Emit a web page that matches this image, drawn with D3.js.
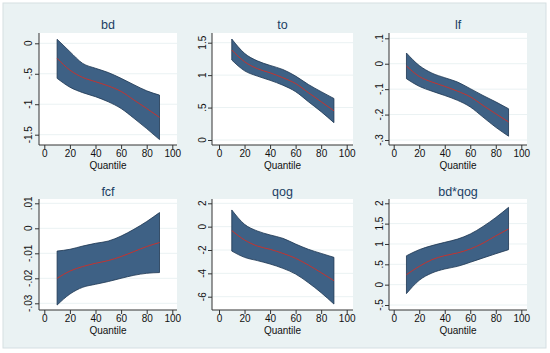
<!DOCTYPE html>
<html>
<head>
<meta charset="utf-8">
<script src="https://cdn.jsdelivr.net/npm/d3@7"></script>
<style>
  body { margin: 0; background: #fff; }
  svg { display: block; font-family: "Liberation Sans", Arial, sans-serif; }
</style>
</head>
<body>
<svg id="chart" width="550" height="353"></svg>
<script>
// quantiles at which the coefficients were estimated
const quantiles = [10, 20, 30, 40, 50, 60, 70, 80, 90];
const xTicks = [0, 20, 40, 60, 80, 100];

const titles = ['bd', 'to', 'lf', 'fcf', 'qog', 'bd*qog'];

// coefficient estimates (red line)
const bdEst  = [-0.246, -0.44, -0.56, -0.63, -0.70, -0.79, -0.93, -1.07, -1.215];
const toEst  = [1.387, 1.207, 1.10, 1.036, 0.96, 0.87, 0.73, 0.59, 0.45];
const lfEst  = [-0.009, -0.05, -0.072, -0.089, -0.108, -0.13, -0.164, -0.197, -0.229];
const fcfEst = [-0.020, -0.0171, -0.0153, -0.014, -0.0129, -0.0113, -0.0093, -0.0073, -0.0057];
const qogEst = [-0.34, -1.14, -1.66, -1.94, -2.29, -2.71, -3.29, -3.94, -4.63];
const bdqEst = [0.245, 0.45, 0.615, 0.713, 0.78, 0.877, 1.02, 1.2, 1.37];

// lower confidence bound
const bdLo  = [-0.575, -0.72, -0.81, -0.876, -0.96, -1.07, -1.23, -1.40, -1.58];
const toLo  = [1.233, 1.067, 0.985, 0.92, 0.845, 0.745, 0.59, 0.436, 0.267];
const lfLo  = [-0.059, -0.089, -0.108, -0.125, -0.144, -0.17, -0.21, -0.25, -0.285];
const fcfLo = [-0.0307, -0.0263, -0.0236, -0.0224, -0.0213, -0.020, -0.0188, -0.018, -0.0177];
const qogLo = [-2.09, -2.63, -2.91, -3.2, -3.57, -4.06, -4.8, -5.66, -6.63];
const bdqLo = [-0.22, 0.107, 0.287, 0.385, 0.45, 0.55, 0.656, 0.76, 0.86];

// upper confidence bound
const bdHi  = [0.066, -0.137, -0.33, -0.41, -0.48, -0.575, -0.68, -0.78, -0.85];
const toHi  = [1.557, 1.336, 1.22, 1.15, 1.087, 0.985, 0.856, 0.745, 0.64];
const lfHi  = [0.042, -0.007, -0.037, -0.055, -0.072, -0.098, -0.125, -0.15, -0.177];
const fcfHi = [-0.0091, -0.0084, -0.0071, -0.006, -0.0051, -0.0031, -0.0004, 0.0027, 0.0063];
const qogHi = [1.43, 0.2, -0.37, -0.71, -1.0, -1.49, -1.94, -2.29, -2.63];
const bdqHi = [0.71, 0.86, 0.96, 1.04, 1.12, 1.245, 1.43, 1.65, 1.9];

// y tick values (labels drop the leading zero, Stata style)
const bdTicks  = [0, -0.5, -1, -1.5];
const toTicks  = [0, 0.5, 1, 1.5];
const lfTicks  = [0.1, 0, -0.1, -0.2, -0.3];
const fcfTicks = [0.01, 0, -0.01, -0.02, -0.03];
const qogTicks = [2, 0, -2, -4, -6];
const bdqTicks = [2, 1.5, 1, 0.5, 0, -0.5];

const ests = [bdEst, toEst, lfEst, fcfEst, qogEst, bdqEst];
const los = [bdLo, toLo, lfLo, fcfLo, qogLo, bdqLo];
const his = [bdHi, toHi, lfHi, fcfHi, qogHi, bdqHi];
const yTicks = [bdTicks, toTicks, lfTicks, fcfTicks, qogTicks, bdqTicks];

// layout: column / row geometry
const cols = [
  {axis: 39, left: 44.3, right: 172.3, edge: 177, label: 28},
  {axis: 212, left: 219, right: 346.7, edge: 353, label: 202},
  {axis: 389, left: 393.7, right: 521.3, edge: 527, label: 379}
];
const rows = [
  {top: 33, bottom: 145, title: 25},
  {top: 199, bottom: 310, title: 191.5}
];
// [value, pixel] pairs for the first and last y tick of each panel
const yAnchors = [
  [[0, 43.3], [-1.5, 134.7]],
  [[1.5, 42.7], [0, 140]],
  [[0.1, 38.3], [-0.3, 140]],
  [[0.01, 203.3], [-0.03, 303.3]],
  [[2, 203.3], [-6, 296.7]],
  [[2, 203.3], [-0.5, 305]]
];

const fmt = v => String(+v.toFixed(4)).replace(/^(-?)0\./, '$1.');

const svg = d3.select('#chart');

svg.append('rect')
  .attr('x', 3).attr('y', 3)
  .attr('width', 543).attr('height', 345)
  .attr('fill', '#eaf2f3')
  .attr('stroke', '#d5dfe2');

titles.forEach((title, i) => {
  const c = cols[i % 3];
  const r = rows[Math.floor(i / 3)];

  const x = d3.scaleLinear().domain([0, 100]).range([c.left, c.right]);
  const a = yAnchors[i];
  const y = d3.scaleLinear().domain([a[0][0], a[1][0]]).range([a[0][1], a[1][1]]);

  const g = svg.append('g');

  g.append('rect')
    .attr('x', c.axis).attr('y', r.top)
    .attr('width', c.edge - c.axis).attr('height', r.bottom - r.top)
    .attr('fill', '#fff');

  // grid lines
  g.selectAll('.grid')
    .data(yTicks[i])
    .enter().append('line')
    .attr('x1', c.axis).attr('x2', c.edge)
    .attr('y1', d => y(d)).attr('y2', d => y(d))
    .attr('stroke', '#eaf2f3')
    .attr('stroke-width', 1);

  const pts = quantiles.map((q, k) => ({q, est: ests[i][k], lo: los[i][k], hi: his[i][k]}));

  const area = d3.area()
    .x(d => x(d.q))
    .y0(d => y(d.lo))
    .y1(d => y(d.hi))
    .curve(d3.curveMonotoneX);

  g.append('path')
    .datum(pts)
    .attr('d', area)
    .attr('fill', '#3e6185')
    .attr('stroke', '#1c3550')
    .attr('stroke-width', 0.8);

  const line = d3.line()
    .x(d => x(d.q))
    .y(d => y(d.est))
    .curve(d3.curveMonotoneX);

  g.append('path')
    .datum(pts)
    .attr('d', line)
    .attr('fill', 'none')
    .attr('stroke', '#c4332f')
    .attr('stroke-width', 1);

  // y axis
  const axisY = d3.axisLeft(y)
    .tickValues(yTicks[i])
    .tickSize(4)
    .tickFormat('');
  g.append('g')
    .attr('transform', `translate(${c.axis},0)`)
    .call(axisY)
    .call(s => s.select('.domain').attr('d', `M0,${r.top}V${r.bottom}`))
    .call(s => s.selectAll('line, path').attr('stroke', '#333'));

  g.selectAll('.ylab')
    .data(yTicks[i])
    .enter().append('text')
    .attr('transform', d => `translate(${c.label},${y(d)}) rotate(-90)`)
    .attr('text-anchor', 'middle')
    .attr('dy', '0.35em')
    .attr('font-size', 10)
    .attr('fill', '#111')
    .text(d => fmt(d));

  // x axis
  const axisX = d3.axisBottom(x)
    .tickValues(xTicks)
    .tickSize(4)
    .tickPadding(1)
    .tickFormat(d3.format('d'));
  g.append('g')
    .attr('transform', `translate(0,${r.bottom})`)
    .call(axisX)
    .call(s => s.select('.domain').attr('d', `M${c.axis},0H${c.edge}`))
    .call(s => s.selectAll('line, path').attr('stroke', '#333'))
    .call(s => s.selectAll('text').attr('font-size', 10).attr('fill', '#111')
      .attr('font-family', '"Liberation Sans", Arial, sans-serif'));

  g.append('text')
    .attr('x', (c.axis + c.edge) / 2)
    .attr('y', r.bottom + 24)
    .attr('text-anchor', 'middle')
    .attr('font-size', 10)
    .attr('fill', '#111')
    .text('Quantile');

  g.append('text')
    .attr('x', (c.axis + c.edge) / 2)
    .attr('y', r.title)
    .attr('dy', '0.35em')
    .attr('text-anchor', 'middle')
    .attr('font-size', 12.5)
    .attr('fill', '#1a3e64')
    .text(title);
});
</script>
</body>
</html>
